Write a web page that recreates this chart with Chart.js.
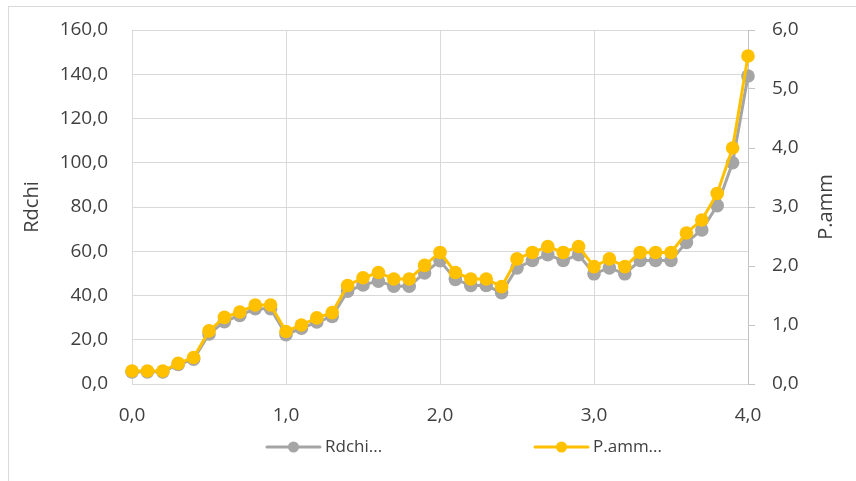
<!DOCTYPE html>
<html>
<head>
<meta charset="utf-8">
<script src="https://cdn.jsdelivr.net/npm/chart.js@4/dist/chart.umd.min.js"></script>
<style>
  html, body { margin: 0; padding: 0; background: #ffffff; }
  #wrap { position: relative; width: 856px; height: 481px; overflow: hidden; }
  #frame { position: absolute; left: 8px; top: 6px; right: -2px; bottom: -2px;
           border-left: 1px solid #d9d9d9; border-top: 1px solid #d9d9d9; }
  canvas { position: absolute; left: 0; top: 0; }
</style>
</head>
<body>
<div id="wrap">
  <div id="frame"></div>
  <canvas id="chart" width="856" height="481"></canvas>
</div>
<script>
// x positions (shared by both series)
const xValues = [0.0, 0.1, 0.2, 0.3, 0.4, 0.5, 0.6, 0.7, 0.8, 0.9,
                 1.0, 1.1, 1.2, 1.3, 1.4, 1.5, 1.6, 1.7, 1.8, 1.9,
                 2.0, 2.1, 2.2, 2.3, 2.4, 2.5, 2.6, 2.7, 2.8, 2.9,
                 3.0, 3.1, 3.2, 3.3, 3.4, 3.5, 3.6, 3.7, 3.8, 3.9, 4.0];

// Rdchi (left axis)
const rdchi = [5.5, 5.5, 5.5, 8.8, 11.2, 22.6, 28.2, 31.0, 34.0, 34.0,
               22.3, 25.2, 28.0, 30.5, 41.9, 44.8, 46.5, 44.2, 44.2, 50.2,
               55.7, 47.3, 44.5, 44.5, 41.3, 52.5, 55.8, 58.4, 55.8, 58.4,
               49.8, 52.5, 49.8, 55.8, 55.8, 55.8, 64.0, 69.6, 80.6, 100.0, 139.2];

// P.amm (right axis)
const pAmm = [0.22, 0.22, 0.22, 0.35, 0.45, 0.90, 1.13, 1.22, 1.34, 1.34,
              0.89, 1.00, 1.12, 1.21, 1.67, 1.80, 1.89, 1.78, 1.78, 2.01,
              2.23, 1.89, 1.78, 1.78, 1.65, 2.12, 2.23, 2.33, 2.23, 2.33,
              1.99, 2.12, 1.99, 2.23, 2.23, 2.23, 2.56, 2.78, 3.23, 4.00, 5.56];

const seriesNames = ['Rdchi', 'P.amm'];
const legendLabels = ['Rdchi...', 'P.amm...'];

const xTickLabels = ['0,0', '1,0', '2,0', '3,0', '4,0'];
const leftTickLabels = ['0,0', '20,0', '40,0', '60,0', '80,0', '100,0', '120,0', '140,0', '160,0'];
const rightTickLabels = ['0,0', '1,0', '2,0', '3,0', '4,0', '5,0', '6,0'];

const GRAY = '#a5a5a5';
const GOLD = '#ffc000';
const TEXT = '#404040';
const GRID = '#d9d9d9';
const FONT = '"Open Sans", "Noto Sans", sans-serif';

// axis titles and the legend row under the x axis
const decorations = {
  id: 'decorations',
  afterDraw(chart) {
    const ctx = chart.ctx;
    const area = chart.chartArea;
    const midY = (area.top + area.bottom) / 2;
    ctx.save();
    ctx.fillStyle = TEXT;
    ctx.font = '20px ' + FONT;
    ctx.textAlign = 'center';
    ctx.textBaseline = 'middle';
    [[32, seriesNames[0]], [826, seriesNames[1]]].forEach(([cx, label]) => {
      ctx.save();
      ctx.translate(cx, midY);
      ctx.rotate(-Math.PI / 2);
      ctx.fillText(label, 0, 0);
      ctx.restore();
    });

    const legendY = 447;
    const items = [
      { start: 267, color: GRAY, text: legendLabels[0] },
      { start: 535, color: GOLD, text: legendLabels[1] }
    ];
    ctx.font = '17px ' + FONT;
    ctx.textAlign = 'left';
    items.forEach(it => {
      ctx.strokeStyle = it.color;
      ctx.lineWidth = 3;
      ctx.lineCap = 'round';
      ctx.beginPath();
      ctx.moveTo(it.start, legendY);
      ctx.lineTo(it.start + 53, legendY);
      ctx.stroke();
      ctx.fillStyle = it.color;
      ctx.beginPath();
      ctx.arc(it.start + 26.5, legendY, 5.5, 0, Math.PI * 2);
      ctx.fill();
      ctx.fillStyle = TEXT;
      ctx.fillText(it.text, it.start + 58, legendY);
    });
    ctx.restore();
  }
};

// fixed axis box sizes; label offsets must not push the plot area inward
function fixVertical(width) {
  return function (s) {
    s.width = width;
    s.paddingTop = 12;
    s.paddingBottom = 12;
  };
}

new Chart(document.getElementById('chart'), {
  type: 'line',
  data: {
    datasets: [
      {
        label: seriesNames[0],
        data: xValues.map((x, i) => ({ x: x, y: rdchi[i] })),
        yAxisID: 'y',
        borderColor: GRAY,
        backgroundColor: GRAY,
        borderWidth: 3,
        pointRadius: 6.8,
        pointBorderWidth: 0,
        pointBackgroundColor: GRAY,
        tension: 0,
        clip: false,
        order: 1
      },
      {
        label: seriesNames[1],
        data: xValues.map((x, i) => ({ x: x, y: pAmm[i] })),
        yAxisID: 'y1',
        borderColor: GOLD,
        backgroundColor: GOLD,
        borderWidth: 3,
        pointRadius: 6.8,
        pointBorderWidth: 0,
        pointBackgroundColor: GOLD,
        tension: 0,
        clip: false,
        order: 0
      }
    ]
  },
  options: {
    responsive: false,
    animation: false,
    devicePixelRatio: 1,
    layout: { padding: { top: 30, left: 0, right: 0, bottom: 0 } },
    plugins: { legend: { display: false }, tooltip: { enabled: false } },
    scales: {
      x: {
        type: 'linear',
        min: 0, max: 4,
        ticks: {
          stepSize: 1, padding: 20, color: TEXT,
          font: { family: FONT, size: 19 },
          callback: (v, i) => xTickLabels[i]
        },
        grid: { color: GRID, lineWidth: 1, drawTicks: false },
        border: { color: GRID },
        afterFit(s) { s.height = 97; s.paddingLeft = 0; s.paddingRight = 0; }
      },
      y: {
        position: 'left',
        min: 0, max: 160,
        ticks: {
          stepSize: 20, padding: 24, color: TEXT,
          font: { family: FONT, size: 19 },
          callback: (v, i) => leftTickLabels[i]
        },
        grid: { color: GRID, lineWidth: 1, drawTicks: false },
        border: { color: GRID },
        afterFit: fixVertical(132)
      },
      y1: {
        position: 'right',
        min: 0, max: 6,
        ticks: {
          stepSize: 1, padding: 17, color: TEXT,
          font: { family: FONT, size: 19 },
          callback: (v, i) => rightTickLabels[i]
        },
        grid: { drawOnChartArea: false, drawTicks: true, tickLength: 7, tickColor: '#c4c4c4' },
        border: { color: '#c4c4c4' },
        afterFit: fixVertical(108)
      }
    }
  },
  plugins: [decorations]
});
</script>
</body>
</html>
